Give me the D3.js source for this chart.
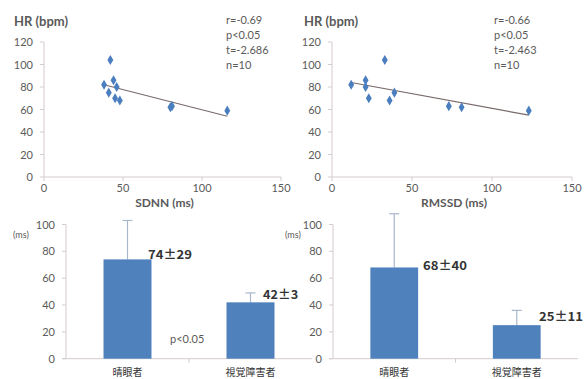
<!DOCTYPE html>
<html>
<head>
<meta charset="utf-8">
<script src="https://cdn.jsdelivr.net/npm/d3@7"></script>
<style>
  body { margin: 0; background: #fff; }
  svg { font-family: Lato, "Open Sans", sans-serif; }
</style>
</head>
<body>
<svg id="chart" width="585" height="379"></svg>
<script>
// scatter data, SDNN vs HR
const sdnnX = [38, 42, 44, 46, 41, 45, 48, 80, 81, 116];
const sdnnHR = [82, 104, 86, 80, 75, 70, 68, 62, 63, 59];
const sdnnTrend = [[38, 82], [116, 54]];
const sdnnStats = ["r=-0.69", "p<0.05", "t=-2.686", "n=10"];

// scatter data, RMSSD vs HR
const rmssdX = [12, 33, 21, 21, 23, 36, 39, 73, 81, 123];
const rmssdHR = [82, 104, 86, 80, 70, 68, 75, 63, 62, 59];
const rmssdTrend = [[12, 84], [123, 55]];
const rmssdStats = ["r=-0.66", "p<0.05", "t=-2.463", "n=10"];

const xTicks = [0, 50, 100, 150];
const hrTicks = [0, 20, 40, 60, 80, 100, 120];
const barTicks = [0, 20, 40, 60, 80, 100];

// bar data
const groups = ["晴眼者", "視覚障害者"];
const sdnnMean = [74, 42];
const sdnnErr = [29, 7];
const sdnnLabels = ["74±29", "42±3"];
const rmssdMean = [68, 25];
const rmssdErr = [40, 11];
const rmssdLabels = ["68±40", "25±11"];

const svg = d3.select("#chart");
const textCol = "#5a5a5a";
const axisCol = "#d6cccc";
const blue = "#4f81bd";

function scatter(xs, ys, trend, stats, xTitle, x0, x1, statX, titleX) {
  const x = d3.scaleLinear().domain([0, 150]).range([x0, x1]);
  const y = d3.scaleLinear().domain([0, 120]).range([177, 42]);
  const g = svg.append("g");

  // axes
  g.append("line").attr("x1", x0).attr("x2", x0).attr("y1", y(0)).attr("y2", y(120))
    .attr("stroke", axisCol);
  g.append("line").attr("x1", x0).attr("x2", x1).attr("y1", y(0)).attr("y2", y(0))
    .attr("stroke", axisCol);
  g.selectAll(".yt").data(hrTicks).enter().append("line")
    .attr("x1", x0 - 4).attr("x2", x0).attr("y1", d => y(d)).attr("y2", d => y(d))
    .attr("stroke", axisCol);
  g.selectAll(".xt").data(xTicks).enter().append("line")
    .attr("x1", d => x(d)).attr("x2", d => x(d)).attr("y1", y(0)).attr("y2", y(0) + 4)
    .attr("stroke", axisCol);
  g.selectAll(".yl").data(hrTicks).enter().append("text")
    .attr("x", x0 - 11).attr("y", d => y(d) + 4).attr("text-anchor", "end")
    .attr("font-size", 11).attr("fill", textCol).text(d => d);
  g.selectAll(".xl").data(xTicks).enter().append("text")
    .attr("x", d => x(d)).attr("y", 192).attr("text-anchor", "middle")
    .attr("font-size", 11).attr("fill", textCol).text(d => d);

  g.append("text").attr("x", titleX).attr("y", 26).attr("font-size", 13)
    .attr("font-weight", "bold").attr("fill", textCol).text("HR (bpm)");
  g.append("text").attr("x", (x0 + x1) / 2 + 2).attr("y", 207).attr("text-anchor", "middle")
    .attr("font-size", 12).attr("font-weight", "bold").attr("fill", textCol).text(xTitle);

  g.selectAll(".st").data(stats).enter().append("text")
    .attr("x", statX).attr("y", (d, i) => 24 + i * 15)
    .attr("font-size", 11).attr("fill", textCol).text(d => d);

  // trend line
  g.append("line")
    .attr("x1", x(trend[0][0])).attr("y1", y(trend[0][1]))
    .attr("x2", x(trend[1][0])).attr("y2", y(trend[1][1]))
    .attr("stroke", "#7a6a6a").attr("stroke-width", 1.2);

  // points (diamonds)
  const sym = d3.symbol().type(d3.symbolDiamond).size(30);
  g.selectAll(".pt").data(xs).enter().append("path")
    .attr("d", sym)
    .attr("transform", (d, i) => `translate(${x(d)},${y(ys[i])})`)
    .attr("fill", "#4a7ebf");
}

scatter(sdnnX, sdnnHR, sdnnTrend, sdnnStats, "SDNN (ms)", 44, 281, 226, 14);
scatter(rmssdX, rmssdHR, rmssdTrend, rmssdStats, "RMSSD (ms)", 332, 572, 494, 304);

function bars(means, errs, labels, x0, x1, msX, labelPos, extra) {
  const x = d3.scaleBand().domain(groups).range([x0, x1])
    .paddingInner(0.61).paddingOuter(0.305);
  const y = d3.scaleLinear().domain([0, 100]).range([358.7, 224.5]);
  const g = svg.append("g");

  g.append("line").attr("x1", x0).attr("x2", x0).attr("y1", y(0)).attr("y2", y(100))
    .attr("stroke", axisCol);
  g.append("line").attr("x1", x0 - 4).attr("x2", x1).attr("y1", y(0)).attr("y2", y(0))
    .attr("stroke", axisCol);
  g.selectAll(".yt").data(barTicks).enter().append("line")
    .attr("x1", x0 - 4).attr("x2", x0).attr("y1", d => y(d)).attr("y2", d => y(d))
    .attr("stroke", axisCol);
  g.append("line").attr("x1", (x0 + x1) / 2).attr("x2", (x0 + x1) / 2)
    .attr("y1", y(0)).attr("y2", y(0) + 4).attr("stroke", axisCol);
  g.selectAll(".yl").data(barTicks).enter().append("text")
    .attr("x", x0 - 11).attr("y", d => y(d) + 4).attr("text-anchor", "end")
    .attr("font-size", 11).attr("fill", textCol).text(d => d);
  g.append("text").attr("x", msX).attr("y", 238).attr("font-size", 9)
    .attr("fill", textCol).text("(ms)");

  // error bars (upper half only)
  g.selectAll(".eb").data(groups).enter().append("line")
    .attr("x1", d => x(d) + x.bandwidth() / 2).attr("x2", d => x(d) + x.bandwidth() / 2)
    .attr("y1", (d, i) => y(means[i])).attr("y2", (d, i) => y(means[i] + errs[i]))
    .attr("stroke", "#a9b8cc").attr("stroke-width", 1.2);
  g.selectAll(".cap").data(groups).enter().append("line")
    .attr("x1", d => x(d) + x.bandwidth() / 2 - 5).attr("x2", d => x(d) + x.bandwidth() / 2 + 5)
    .attr("y1", (d, i) => y(means[i] + errs[i])).attr("y2", (d, i) => y(means[i] + errs[i]))
    .attr("stroke", "#a9b8cc").attr("stroke-width", 1.2);

  g.selectAll(".bar").data(groups).enter().append("rect")
    .attr("x", d => x(d)).attr("width", x.bandwidth())
    .attr("y", (d, i) => y(means[i])).attr("height", (d, i) => y(0) - y(means[i]))
    .attr("fill", blue);

  g.selectAll(".bl").data(labels).enter().append("text")
    .attr("x", (d, i) => labelPos[i][0]).attr("y", (d, i) => labelPos[i][1])
    .attr("font-family", "'Noto Sans CJK JP'")
    .attr("font-size", 12).attr("font-weight", "bold").attr("fill", "#333")
    .attr("textLength", (d, i) => d.length * 8.8).attr("lengthAdjust", "spacingAndGlyphs")
    .text(d => d);

  g.selectAll(".cl").data(groups).enter().append("text")
    .attr("x", d => x(d) + x.bandwidth() / 2).attr("y", 376).attr("text-anchor", "middle")
    .attr("font-family", "'Noto Sans CJK JP'").attr("font-size", 10).attr("fill", "#333")
    .text(d => d);

  if (extra) {
    g.append("text").attr("x", extra[0]).attr("y", extra[1]).attr("font-size", 11)
      .attr("fill", textCol).text(extra[2]);
  }
}

bars(sdnnMean, sdnnErr, sdnnLabels, 66, 312, 13, [[148, 259], [263, 299]], [170, 343, "p<0.05"]);
bars(rmssdMean, rmssdErr, rmssdLabels, 333, 578, 285, [[423, 270], [539, 321]], null);
</script>
</body>
</html>
